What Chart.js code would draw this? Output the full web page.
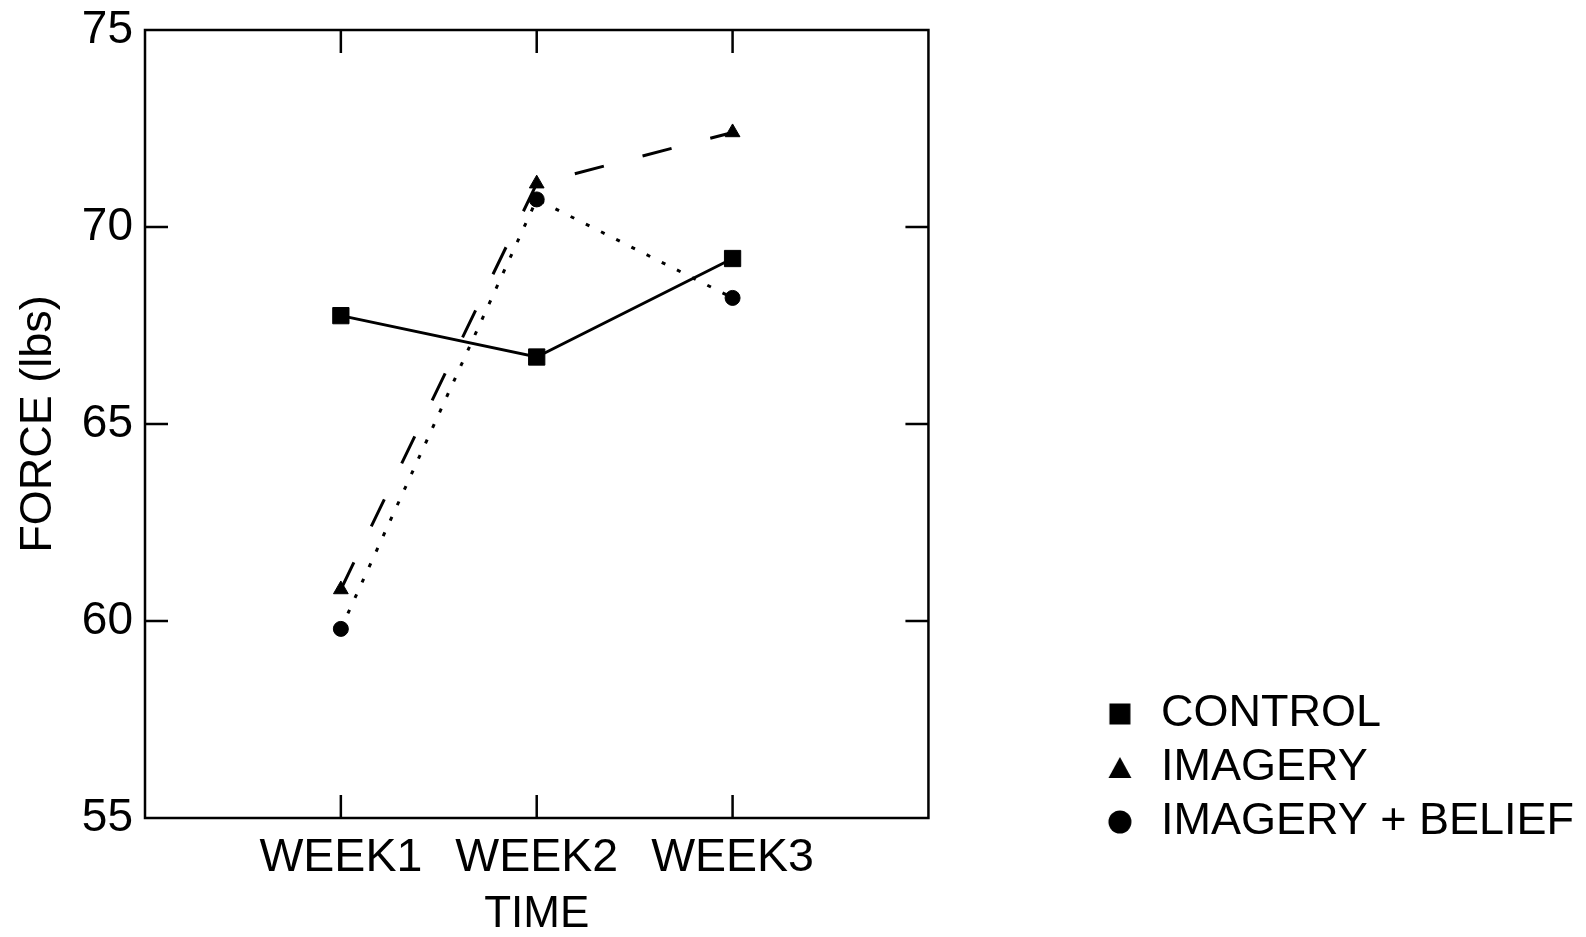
<!DOCTYPE html>
<html>
<head>
<meta charset="utf-8">
<script src="https://cdn.jsdelivr.net/npm/chart.js@4/dist/chart.umd.min.js"></script>
<style>
  html, body { margin: 0; padding: 0; background: #ffffff; }
  #wrap { width: 1586px; height: 937px; }
</style>
</head>
<body>
<div id="wrap"><canvas id="c" width="1586" height="937"></canvas></div>
<script>
// ---- data ----
const weeks = ['WEEK1', 'WEEK2', 'WEEK3'];
const seriesNames = ['CONTROL', 'IMAGERY', 'IMAGERY + BELIEF'];
const controlForce = [67.75, 66.7, 69.2];
const imageryForce = [60.8, 71.1, 72.4];
const beliefForce = [59.8, 70.7, 68.2];
const yTickValues = [55, 60, 65, 70, 75];
const innerYTicks = [60, 65, 70];

const FONT = '"Liberation Sans", Arial, Helvetica, sans-serif';
Chart.defaults.font.family = FONT;
Chart.defaults.color = '#000';

function toPoints(values) {
  return values.map((v, i) => ({ x: i + 1, y: v }));
}

// legend marker icons
function makeIcon(kind) {
  const c = document.createElement('canvas');
  c.width = 26; c.height = 26;
  const g = c.getContext('2d');
  g.fillStyle = '#000';
  if (kind === 'rect') {
    g.fillRect(2.5, 2.5, 21, 21);
  } else if (kind === 'triangle') {
    g.beginPath(); g.moveTo(13, 2); g.lineTo(24.5, 23); g.lineTo(1.5, 23); g.closePath(); g.fill();
  } else {
    g.beginPath(); g.arc(13, 13, 11.5, 0, Math.PI * 2); g.fill();
  }
  return c;
}
const legendIcons = [makeIcon('rect'), makeIcon('triangle'), makeIcon('circle')];

const frameTicks = {
  id: 'frameTicks',
  beforeDatasetsDraw(chart) {
    const { ctx, chartArea: a, scales } = chart;
    const xs = scales.x, ys = scales.y;
    ctx.save();
    ctx.strokeStyle = '#000';
    ctx.lineWidth = 2.5;
    ctx.strokeRect(a.left, a.top, a.right - a.left, a.bottom - a.top);
    const L = 23;
    ctx.beginPath();
    innerYTicks.forEach(v => {
      const y = ys.getPixelForValue(v);
      ctx.moveTo(a.left, y); ctx.lineTo(a.left + L, y);
      ctx.moveTo(a.right, y); ctx.lineTo(a.right - L, y);
    });
    weeks.forEach((w, i) => {
      const x = xs.getPixelForValue(i + 1);
      ctx.moveTo(x, a.bottom); ctx.lineTo(x, a.bottom - L);
      ctx.moveTo(x, a.top); ctx.lineTo(x, a.top + L);
    });
    ctx.stroke();
    ctx.restore();
  }
};

const legendShift = {
  id: 'legendShift',
  afterLayout(chart) {
    if (chart.legend) { chart.legend.top += 35.5; chart.legend.bottom += 35.5; }
  }
};

const seriesData = [controlForce, imageryForce, beliefForce];
const seriesStyle = [
  { pointStyle: 'rect', pointRadius: 11.5, borderDash: [] },
  { pointStyle: 'triangle', pointRadius: 8.5, borderDash: [30, 40] },
  { pointStyle: 'circle', pointRadius: 7.5, borderDash: [4, 13] }
];

new Chart(document.getElementById('c'), {
  type: 'line',
  data: {
    datasets: seriesNames.map((name, i) => ({
      label: name,
      data: toPoints(seriesData[i]),
      borderColor: '#000',
      backgroundColor: '#000',
      pointBackgroundColor: '#000',
      pointBorderColor: '#000',
      pointBorderWidth: 1,
      borderWidth: 3,
      borderDash: seriesStyle[i].borderDash,
      pointStyle: seriesStyle[i].pointStyle,
      pointRadius: seriesStyle[i].pointRadius,
      tension: 0,
      fill: false,
      clip: false
    }))
  },
  options: {
    responsive: false,
    devicePixelRatio: 1,
    animation: false,
    events: [],
    layout: { padding: { top: 30, right: 2, bottom: 0, left: 0 } },
    scales: {
      x: {
        type: 'linear',
        min: 0,
        max: weeks.length + 1,
        afterBuildTicks(s) { s.ticks = weeks.map((w, i) => ({ value: i + 1 })); },
        afterFit(s) { s.height = 119; s.paddingLeft = 0; s.paddingRight = 0; },
        grid: { display: false, drawTicks: false },
        border: { display: false },
        ticks: {
          autoSkip: false,
          maxRotation: 0,
          padding: 12,
          font: { size: 46.5 },
          color: '#000',
          callback: (v) => weeks[v - 1] || ''
        },
        title: {
          display: true,
          text: 'TIME',
          font: { size: 44, lineHeight: 1.0 },
          color: '#000',
          padding: { top: 0, bottom: 0 }
        }
      },
      y: {
        type: 'linear',
        min: yTickValues[0],
        max: yTickValues[yTickValues.length - 1],
        afterBuildTicks(s) { s.ticks = yTickValues.map(v => ({ value: v })); },
        afterFit(s) { s.width = 145; s.paddingTop = 0; s.paddingBottom = 0; },
        grid: { display: false, drawTicks: false },
        border: { display: false },
        ticks: { padding: 12, font: { size: 46 }, color: '#000' },
        title: {
          display: true,
          text: 'FORCE (lbs)',
          font: { size: 45 },
          color: '#000',
          padding: { top: 12, bottom: 0 }
        }
      },
      spacer: {
        type: 'linear',
        position: 'right',
        display: true,
        afterFit(s) { s.width = 164; s.paddingTop = 0; s.paddingBottom = 0; },
        grid: { display: false, drawTicks: false },
        border: { display: false },
        ticks: { display: false }
      }
    },
    plugins: {
      tooltip: { enabled: false },
      legend: {
        display: true,
        position: 'right',
        align: 'end',
        fullSize: false,
        maxWidth: 700,
        labels: {
          usePointStyle: true,
          boxWidth: 37,
          boxHeight: 22,
          padding: 9,
          color: '#000',
          font: { size: 45 },
          generateLabels(chart) {
            const items = Chart.defaults.plugins.legend.labels.generateLabels(chart);
            items.forEach((it, i) => {
              it.pointStyle = legendIcons[i];
              it.lineDash = [];
              it.lineWidth = 0;
            });
            return items;
          }
        }
      }
    }
  },
  plugins: [frameTicks, legendShift]
});
</script>
</body>
</html>
